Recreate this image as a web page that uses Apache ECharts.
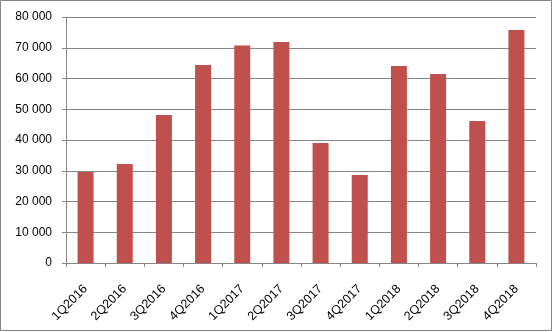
<!DOCTYPE html>
<html><head><meta charset="utf-8">
<script src="https://cdn.jsdelivr.net/npm/echarts@6/dist/echarts.min.js"></script>
<style>html,body{margin:0;padding:0;background:#fff}#c{width:553px;height:332px}</style>
</head><body><div id="c"></div>
<script>
const categories = ['1Q2016','2Q2016','3Q2016','4Q2016','1Q2017','2Q2017','3Q2017','4Q2017','1Q2018','2Q2018','3Q2018','4Q2018'];
const values = [29600, 32200, 48100, 64400, 70700, 71900, 39000, 28600, 64100, 61500, 46200, 75800];
const yTicks = [0, 10000, 20000, 30000, 40000, 50000, 60000, 70000, 80000];

const chart = echarts.init(document.getElementById('c'), null, {renderer: 'canvas'});
const fmt = v => { const s = String(v); return s.length > 3 ? s.slice(0, -3) + ' ' + s.slice(-3) : s; };
chart.setOption({
  animation: false,
  textStyle: {fontFamily: 'Liberation Sans, Arial, sans-serif'},
  graphic: [{type: 'rect', shape: {x: 0.5, y: 0.5, width: 551, height: 330}, style: {fill: 'none', stroke: '#868686', lineWidth: 1}}],
  grid: {left: 66, right: 17, top: 17, bottom: 69, containLabel: false},
  xAxis: {
    type: 'category', data: categories,
    axisLine: {lineStyle: {color: '#868686', width: 1}},
    axisTick: {show: true, length: 4, lineStyle: {color: '#868686'}},
    axisLabel: {rotate: 45, color: '#000', fontSize: 12.5, margin: 24, interval: 0}
  },
  yAxis: {
    type: 'value', min: yTicks[0], max: yTicks[yTicks.length - 1], interval: 10000,
    axisLine: {show: true, lineStyle: {color: '#868686', width: 1}},
    axisTick: {show: true, length: 4, lineStyle: {color: '#868686'}},
    splitLine: {lineStyle: {color: '#868686', width: 1}},
    axisLabel: {color: '#000', fontSize: 12, margin: 14, formatter: fmt}
  },
  series: [{type: 'bar', data: values, barWidth: 16, itemStyle: {color: '#C0504D'}}]
});
</script></body></html>
